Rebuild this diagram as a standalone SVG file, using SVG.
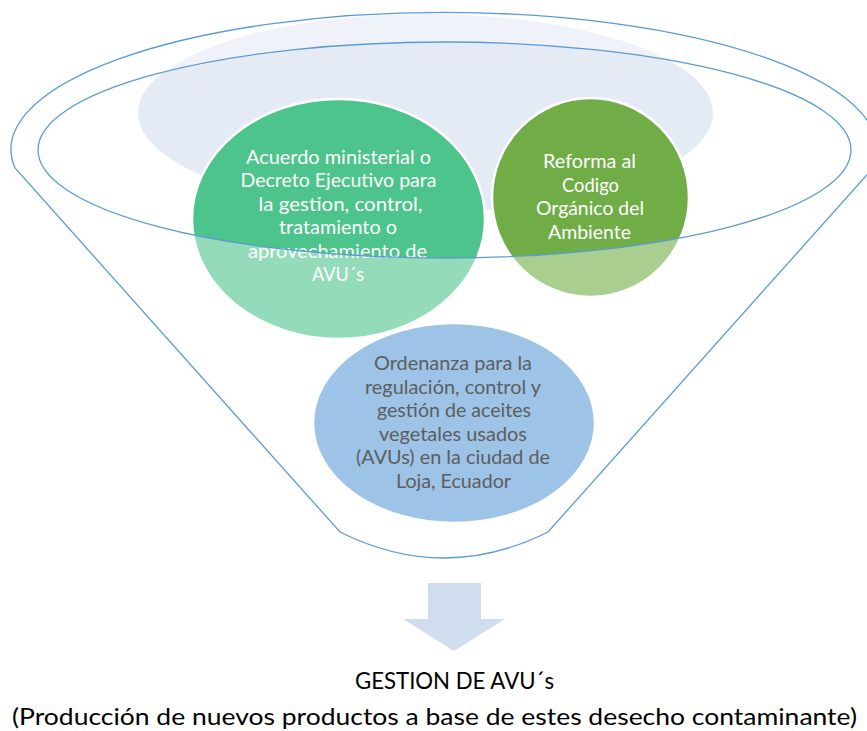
<svg xmlns="http://www.w3.org/2000/svg" width="867" height="731" viewBox="0 0 867 731">
<style>
.line{fill:none;stroke:#5B9BD5;stroke-width:1.3}
.node{stroke:#FFFFFF;stroke-width:2.5}
.wt{font-family:Lato,"Open Sans","Liberation Sans",sans-serif;font-size:19px;fill:#FFFFFF;text-anchor:middle}
.gt{font-family:Lato,"Open Sans","Liberation Sans",sans-serif;font-size:19px;fill:#5E5E5E;text-anchor:middle}
.bt{font-family:Lato,"Open Sans","Liberation Sans",sans-serif;font-size:23.5px;fill:#000000;text-anchor:middle}
</style>
<rect width="867" height="731" fill="#FFFFFF"/>
<g id="funnel-background">
<ellipse cx="425.5" cy="113" rx="287.5" ry="99" fill="#E4EBF5"/>
</g>
<g id="node-acuerdo">
<ellipse class="node" cx="338.5" cy="219" rx="146.5" ry="120" fill="#4DC48B"/>
<text class="wt" x="338.5" y="164" textLength="185" lengthAdjust="spacingAndGlyphs">Acuerdo ministerial o</text>
<text class="wt" x="338.5" y="187.4" textLength="196" lengthAdjust="spacingAndGlyphs">Decreto Ejecutivo para</text>
<text class="wt" x="340.5" y="210.8" textLength="164" lengthAdjust="spacingAndGlyphs">la gestion, control,</text>
<text class="wt" x="338" y="234.2" textLength="118" lengthAdjust="spacingAndGlyphs">tratamiento o</text>
<text class="wt" x="337.5" y="257.6" textLength="179" lengthAdjust="spacingAndGlyphs">aprovechamiento de</text>
<text class="wt" x="338" y="281" textLength="52" lengthAdjust="spacingAndGlyphs">AVU´s</text>
</g>
<g id="node-reforma">
<ellipse class="node" cx="590.5" cy="197.5" rx="98.5" ry="99.5" fill="#70AD47"/>
<text class="wt" x="589.5" y="168" textLength="93" lengthAdjust="spacingAndGlyphs">Reforma al</text>
<text class="wt" x="590.5" y="191.5" textLength="57" lengthAdjust="spacingAndGlyphs">Codigo</text>
<text class="wt" x="590" y="215" textLength="108" lengthAdjust="spacingAndGlyphs">Orgánico del</text>
<text class="wt" x="589.5" y="238.5" textLength="83" lengthAdjust="spacingAndGlyphs">Ambiente</text>
</g>
<g id="funnel">
<path fill="#FFFFFF" fill-opacity="0.4" fill-rule="evenodd" d="M15,168 A433,137 0 1 1 873,168 L548,532 Q444,584 340,532 Z M38,150 A406.5,108 0 1 0 851,150 A406.5,108 0 1 0 38,150 Z"/>
<path class="line" d="M15,168 A433,137 0 1 1 873,168 L548,532 Q444,584 340,532 Z"/>
<ellipse class="line" cx="444.5" cy="150" rx="406.5" ry="108"/>
</g>
<g id="node-ordenanza">
<ellipse class="node" cx="454" cy="423" rx="141" ry="100" fill="#9DC3E6"/>
<text class="gt" x="453" y="370" textLength="158" lengthAdjust="spacingAndGlyphs">Ordenanza para la</text>
<text class="gt" x="453" y="393.5" textLength="176" lengthAdjust="spacingAndGlyphs">regulación, control y</text>
<text class="gt" x="454" y="417" textLength="154" lengthAdjust="spacingAndGlyphs">gestión de aceites</text>
<text class="gt" x="453" y="440.5" textLength="148" lengthAdjust="spacingAndGlyphs">vegetales usados</text>
<text class="gt" x="453" y="464" textLength="194" lengthAdjust="spacingAndGlyphs">(AVUs) en la ciudad de</text>
<text class="gt" x="453.5" y="487.5" textLength="115" lengthAdjust="spacingAndGlyphs">Loja, Ecuador</text>
</g>
<g id="connectors">
<polygon points="428,583 481,583 481,619 505,619 454,651 403,619 428,619" fill="#D0DDEF"/>
</g>
<g id="node-result">
<text class="bt" x="454.5" y="689" textLength="199" lengthAdjust="spacingAndGlyphs">GESTION DE AVU´s</text>
<text class="bt" x="434.5" y="725" textLength="845" lengthAdjust="spacingAndGlyphs">(Producción de nuevos productos a base de estes desecho contaminante)</text>
</g>
</svg>
